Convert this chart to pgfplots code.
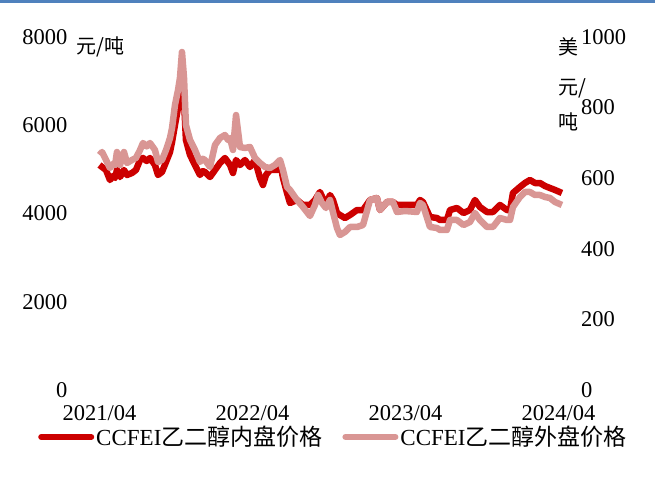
\documentclass[border=0pt]{standalone}
\usepackage{fontspec}
\setmainfont{Liberation Serif}
\newfontfamily\cjk{Noto Sans CJK SC}
\usepackage{pgfplots}
\pgfplotsset{compat=1.18}
\usepackage{pgfplotstable}
\definecolor{innerc}{RGB}{204,0,0}
\definecolor{outerc}{RGB}{217,150,148}
\definecolor{topblue}{RGB}{79,129,189}

\pgfplotstableread{
m v
0.00 5099
0.20 5054
0.51 4986
0.82 4759
1.05 4850
1.22 4805
1.37 4986
1.61 4827
1.92 4986
2.16 4873
2.55 4918
2.86 4986
3.18 5212
3.41 5258
3.70 5190
3.96 5258
4.35 5099
4.59 4873
4.90 4941
5.22 5167
5.53 5394
5.69 5620
5.92 6006
6.16 6391
6.31 6618
6.47 6912
6.63 6572
6.78 5666
7.10 5326
7.49 5099
7.88 4873
8.10 4960
8.27 4941
8.67 4827
9.06 4986
9.45 5145
9.84 5258
10.24 5099
10.47 4918
10.71 5212
11.02 5099
11.41 5212
11.80 5054
12.20 5212
12.59 4805
12.82 4646
13.06 4873
13.37 4986
13.92 4986
14.16 5167
14.39 4805
14.71 4465
14.94 4238
15.49 4306
15.96 4193
16.51 4193
16.90 4306
17.29 4487
17.76 4193
18.08 4419
18.31 4306
18.63 4011
18.86 3966
19.25 3898
19.65 3966
20.20 4079
20.67 4079
21.22 4306
21.76 4351
22.00 4079
22.55 4261
23.02 4261
23.33 4193
23.96 4193
24.90 4193
25.14 4306
25.37 4261
25.92 3921
26.47 3898
26.71 3853
27.25 3853
27.49 4079
28.04 4125
28.55 4011
29.06 4079
29.45 4306
29.84 4147
30.39 4034
30.86 4034
31.41 4193
31.96 4079
32.20 4079
32.43 4465
32.98 4601
33.37 4691
33.76 4759
34.16 4691
34.55 4691
34.94 4623
35.33 4578
35.73 4533
36.27 4465
}\innertab

\pgfplotstableread{
m v
0.00 665.7
0.20 674.2
0.51 651.6
0.82 628.9
1.05 640.0
1.22 637.4
1.37 674.2
1.61 637.4
1.92 674.2
2.16 643.1
2.55 651.6
2.86 657.2
3.18 679.9
3.41 699.7
3.70 690.0
3.96 699.7
4.35 679.9
4.59 645.9
4.90 651.6
5.22 679.9
5.53 713.9
5.69 742.2
5.92 807.4
6.16 849.9
6.31 883.9
6.47 957.5
6.63 883.9
6.78 750.7
7.10 708.2
7.49 679.9
7.88 645.9
8.10 655.0
8.27 651.6
8.67 631.7
9.06 694.1
9.45 713.9
9.84 722.4
10.08 708.2
10.24 713.9
10.47 679.9
10.71 779.0
11.02 688.4
11.41 685.6
11.80 688.4
12.20 657.2
12.59 643.1
12.98 631.7
13.37 628.9
13.76 637.4
14.16 651.6
14.39 623.2
14.71 575.1
14.94 566.6
15.49 538.3
15.96 518.4
16.51 492.9
16.90 524.1
17.14 552.4
17.45 529.8
17.76 515.6
18.08 538.3
18.31 504.3
18.63 458.9
18.86 439.1
19.25 447.6
19.65 461.8
20.20 461.8
20.67 467.4
21.22 538.3
21.76 543.9
22.00 509.9
22.55 532.6
23.02 532.6
23.33 504.3
23.96 507.1
24.90 504.3
25.14 529.8
25.37 524.1
25.92 461.8
26.47 458.9
26.71 453.3
27.25 453.3
27.49 481.6
28.04 481.6
28.55 467.4
29.06 475.9
29.45 501.4
29.84 481.6
30.39 461.8
30.86 461.8
31.41 487.3
31.96 481.6
32.20 481.6
32.43 518.4
32.98 546.8
33.37 560.9
33.76 560.9
34.16 552.4
34.55 552.4
34.94 546.8
35.33 543.9
35.73 532.6
36.27 524.1
}\outertab

\begin{document}
\begin{tikzpicture}[x=1pt,y=1pt]
\path[use as bounding box] (0,0) rectangle (655,492);
\fill[topblue] (0,489) rectangle (655,492);
\pgfplotsset{common/.style={
  scale only axis, width=495pt, height=353pt,
  at={(78pt,102pt)}, anchor=south west,
  xmin=-1.686, xmax=37.14,
  axis line style={draw=none}, major tick length=0pt,
  tick label style={font=\fontsize{22.5}{26}\selectfont},
  /pgf/number format/assume math mode=true,
  /pgf/number format/1000 sep={},
}}
\begin{axis}[common, ymin=0, ymax=8000, ytick={0,2000,4000,6000,8000},
  xtick={0,12,24,36}, xticklabels={2021/04,2022/04,2023/04,2024/04},
  yticklabel style={xshift=-7pt}, xticklabel style={yshift=-13pt, inner sep=2pt}]
\addplot[innerc, line width=6.5pt, line join=round, no markers] table[x=m,y=v] {\innertab};
\end{axis}
\begin{axis}[common, ymin=0, ymax=1000, ytick={0,200,400,600,800,1000},
  axis y line*=right, axis x line=none, yticklabel style={xshift=4.5pt},
  legend style={at={(0.516,-0.133)}, anchor=center, draw=none, fill=none,
    legend columns=2, font=\fontsize{23}{26}\selectfont,
    nodes={inner ysep=1pt},
    /tikz/every even column/.append style={column sep=18pt}},
  legend image code/.code={\draw[#1, line width=6pt, line cap=round] (0pt,0pt) -- (50pt,0pt);}]
\addlegendimage{innerc}
\addlegendentry{CCFEI{\cjk 乙二醇内盘价格}}
\addplot[outerc, line width=6.5pt, line join=round, no markers] table[x=m,y=v] {\outertab};
\addlegendentry{CCFEI{\cjk 乙二醇外盘价格}}
\end{axis}
\node[anchor=west, inner sep=0pt, font=\cjk\fontsize{20}{20}\selectfont] at (76,445) {元/吨};
\node[anchor=west, inner sep=0pt, font=\cjk\fontsize{20}{20}\selectfont] at (558,445) {美};
\node[anchor=west, inner sep=0pt, font=\cjk\fontsize{20}{20}\selectfont] at (558,404) {元/};
\node[anchor=west, inner sep=0pt, font=\cjk\fontsize{20}{20}\selectfont] at (558,370) {吨};
\end{tikzpicture}
\end{document}
